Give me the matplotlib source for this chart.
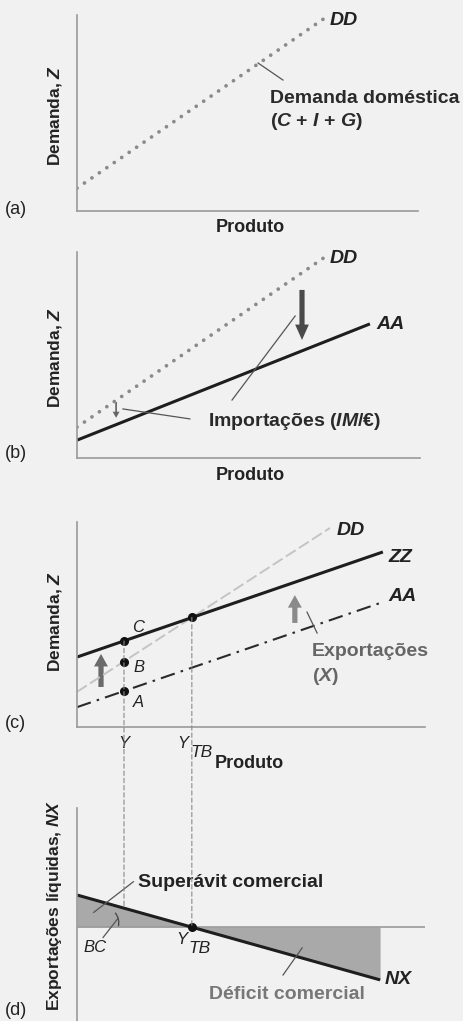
import matplotlib
matplotlib.use("Agg")
import matplotlib.pyplot as plt
from matplotlib.patches import ConnectionPatch, Arc

plt.rcParams['font.family'] = ['Liberation Sans', 'DejaVu Sans']
plt.rcParams['mathtext.fontset'] = 'custom'
plt.rcParams['mathtext.rm'] = 'Liberation Sans:bold'
plt.rcParams['mathtext.it'] = 'Liberation Sans:italic:bold'
plt.rcParams['mathtext.bf'] = 'Liberation Sans:bold'

# ---------------- data ----------------
# panel (a): domestic demand DD
dd_a_x = [0.0, 7.27]
dd_a_y = [0.67, 5.66]
# panel (b): DD and AA = DD - IM/e
dd_b_x = [0.0, 7.23]
dd_b_y = [0.90, 5.86]
aa_b_x = [0.0, 8.54]
aa_b_y = [0.52, 3.91]
# panel (c): DD, AA, ZZ = AA + X
dd_c_x = [0.0, 7.27]
dd_c_y = [1.01, 5.72]
aa_c_x = [0.0, 8.79]
aa_c_y = [0.57, 3.59]
zz_c_x = [0.0, 8.79]
zz_c_y = [2.01, 5.03]
y_out = 1.35          # output level Y
y_tb = 3.30           # trade-balance output level Y_TB
pts_c_names = ['A', 'B', 'C']
pts_c_y = [1.03, 1.88, 2.47]
ytb_c_y = 3.15
# panel (d): net exports NX
nx_x = [0.0, 8.71]
nx_y = [0.92, -1.52]
nx_at_y = 0.54

BG = '#f1f1f1'
fig = plt.figure(figsize=(4.64, 10.21), dpi=100, facecolor=BG)

def fx(px):
    return px / 464.0

def fy(py):
    return 1 - py / 1021.0

def make_ax(l, r, t, b, ylim):
    ax = fig.add_axes([fx(l), fy(b), (r - l) / 464.0, (b - t) / 1021.0])
    ax.set_facecolor(BG)
    ax.set_xlim(0, 10)
    ax.set_ylim(*ylim)
    for s in ['top', 'right']:
        ax.spines[s].set_visible(False)
    for s in ['left', 'bottom']:
        ax.spines[s].set_color('#9a9a9a')
        ax.spines[s].set_linewidth(1.2)
    ax.set_xticks([])
    ax.set_yticks([])
    return ax

FS = 14
DOT = dict(color='#8a8a8a', lw=2.7, linestyle=(0, (0.01, 2.4)), dash_capstyle='round')

# ---------------- panel (a) ----------------
ax_a = make_ax(77, 418, 15, 211, (0, 196 / 34.1))
ax_a.plot(dd_a_x, dd_a_y, **DOT)
ax_a.text(7.42, 5.60, 'DD', fontsize=FS, fontweight='bold', style='italic', va='center', ha='left', color='#222')
ax_a.plot([5.31, 6.04], [4.34, 3.84], color='#555', lw=0.9)
ax_a.text(5.66, 3.31, 'Demanda doméstica', fontsize=FS, fontweight='bold', va='center', ha='left', color='#2a2a2a')
ax_a.text(5.66, 2.61, r'($C$ + $I$ + $G$)', fontsize=FS, fontweight='bold', va='center', ha='left', color='#2a2a2a')
fig.text(fx(250), fy(228), 'Produto', fontsize=13, fontweight='bold', ha='center', va='center', color='#222')
fig.text(fx(55), fy(115), r'Demanda, $Z$', fontsize=12.5, fontweight='bold', rotation=90, ha='center', va='center', color='#222')
fig.text(fx(5), fy(209), '(a)', fontsize=13, ha='left', va='center', color='#222')

# ---------------- panel (b) ----------------
ax_b = make_ax(77, 420, 252, 458, (0, 206 / 34.3))
ax_b.plot(dd_b_x, dd_b_y, **DOT)
ax_b.plot(aa_b_x, aa_b_y, color='#1e1e1e', lw=2.2, solid_capstyle='butt')
ax_b.text(7.38, 5.83, 'DD', fontsize=FS, fontweight='bold', style='italic', va='center', ha='left', color='#222')
ax_b.text(8.74, 3.88, 'AA', fontsize=FS, fontweight='bold', style='italic', va='center', ha='left', color='#222')
ax_b.arrow(6.56, 4.90, 0, -1.46, width=0.15, head_width=0.40, head_length=0.45,
           length_includes_head=True, color='#4a4a4a', lw=0)
ax_b.arrow(1.14, 1.63, 0, -0.46, width=0.05, head_width=0.20, head_length=0.18,
           length_includes_head=True, color='#666666', lw=0)
ax_b.plot([3.29, 1.34], [1.14, 1.43], color='#555', lw=0.9)
ax_b.plot([4.52, 6.36], [1.69, 4.14], color='#555', lw=0.9)
ax_b.text(3.82, 1.05, r'Importações ($IM$/€)', fontsize=FS, fontweight='bold', va='center', ha='left', color='#2a2a2a')
fig.text(fx(250), fy(475), 'Produto', fontsize=13, fontweight='bold', ha='center', va='center', color='#222')
fig.text(fx(55), fy(357), r'Demanda, $Z$', fontsize=12.5, fontweight='bold', rotation=90, ha='center', va='center', color='#222')
fig.text(fx(5), fy(453), '(b)', fontsize=13, ha='left', va='center', color='#222')

# ---------------- panel (c) ----------------
ax_c = make_ax(77, 425, 522, 727, (0, 205 / 34.8))
ax_c.plot(dd_c_x, dd_c_y, color='#c4c4c4', lw=1.4, linestyle=(0, (6, 2)))
ax_c.plot(aa_c_x, aa_c_y, color='#2a2a2a', lw=1.5, linestyle=(0, (7, 3, 1.2, 3)))
ax_c.plot(zz_c_x, zz_c_y, color='#1e1e1e', lw=2.2, solid_capstyle='butt')
ax_c.plot([y_out] * 3, pts_c_y, 'o', color='#111', ms=5.5, zorder=5)
ax_c.plot([y_tb], [ytb_c_y], 'o', color='#111', ms=5.5, zorder=5)
ax_c.text(1.58, 2.87, 'C', fontsize=12, style='italic', va='center', ha='left', color='#222')
ax_c.text(1.61, 1.72, 'B', fontsize=12, style='italic', va='center', ha='left', color='#222')
ax_c.text(1.61, 0.69, 'A', fontsize=12, style='italic', va='center', ha='left', color='#222')
ax_c.text(7.45, 5.66, 'DD', fontsize=FS, fontweight='bold', style='italic', va='center', ha='left', color='#222')
ax_c.text(8.94, 4.86, 'ZZ', fontsize=FS, fontweight='bold', style='italic', va='center', ha='left', color='#222')
ax_c.text(8.94, 3.74, 'AA', fontsize=FS, fontweight='bold', style='italic', va='center', ha='left', color='#222')
ax_c.arrow(6.26, 2.99, 0, 0.80, width=0.15, head_width=0.40, head_length=0.36,
           length_includes_head=True, color='#8a8a8a', lw=0)
ax_c.arrow(0.69, 1.15, 0, 0.95, width=0.15, head_width=0.40, head_length=0.36,
           length_includes_head=True, color='#6a6a6a', lw=0)
ax_c.plot([6.61, 6.90], [3.30, 2.70], color='#555', lw=0.9)
ax_c.text(6.75, 2.16, 'Exportações', fontsize=FS, fontweight='bold', va='center', ha='left', color='#666')
ax_c.text(6.75, 1.44, r'($X$)', fontsize=FS, fontweight='bold', va='center', ha='left', color='#666')
ax_c.text(y_out, -0.46, 'Y', fontsize=12, style='italic', va='center', ha='center', color='#222', clip_on=False)
ax_c.text(3.05, -0.46, 'Y', fontsize=12, style='italic', va='center', ha='center', color='#222', clip_on=False)
ax_c.text(3.58, -0.74, 'TB', fontsize=12.5, style='italic', va='center', ha='center', color='#222', clip_on=False)
fig.text(fx(249), fy(763), 'Produto', fontsize=13, fontweight='bold', ha='center', va='center', color='#222')
fig.text(fx(55), fy(621), r'Demanda, $Z$', fontsize=12.5, fontweight='bold', rotation=90, ha='center', va='center', color='#222')
fig.text(fx(5), fy(723), '(c)', fontsize=13, ha='left', va='center', color='#222')

# ---------------- panel (d) ----------------
ax_d = make_ax(77, 425, 808, 1021, (-94 / 34.8, 119 / 34.8))
ax_d.spines['bottom'].set_visible(False)
ax_d.axhline(0, color='#9a9a9a', lw=1.2)
ax_d.fill_between(nx_x, nx_y, 0, color='#a9a9a9', lw=0)
ax_d.plot(nx_x, nx_y, color='#1e1e1e', lw=2.2, solid_capstyle='butt')
ax_d.plot([y_tb], [0], 'o', color='#111', ms=5.5, zorder=5)
ax_d.text(8.85, -1.52, 'NX', fontsize=FS, fontweight='bold', style='italic', va='center', ha='left', color='#222')
ax_d.text(1.75, 1.29, 'Superávit comercial', fontsize=FS, fontweight='bold', va='center', ha='left', color='#222')
ax_d.plot([1.62, 0.48], [1.30, 0.42], color='#555', lw=0.9)
ax_d.text(6.03, -1.95, 'Déficit comercial', fontsize=FS, fontweight='bold', va='center', ha='center', color='#777')
ax_d.plot([5.92, 6.47], [-1.38, -0.60], color='#555', lw=0.9)
ax_d.text(0.52, -0.58, 'BC', fontsize=12, style='italic', va='center', ha='center', color='#222')
ax_d.plot([0.75, 1.18], [-0.30, 0.25], color='#555', lw=0.9)
ax_d.add_patch(Arc((0.75, 0.12), 0.9, 0.9, theta1=-15, theta2=40, color='#444', lw=0.9))
ax_d.text(3.02, -0.37, 'Y', fontsize=12, style='italic', va='center', ha='center', color='#222')
ax_d.text(3.52, -0.62, 'TB', fontsize=12.5, style='italic', va='center', ha='center', color='#222')
fig.text(fx(55), fy(905), r'Exportações líquidas, $NX$', fontsize=12.5, fontweight='bold', rotation=90, ha='center', va='center', color='#222')
fig.text(fx(5), fy(1010), '(d)', fontsize=13, ha='left', va='center', color='#222')

# vertical guides connecting panels (c) and (d)
for xa, ya, yb in [(y_out, pts_c_y[2], nx_at_y), (y_tb, ytb_c_y, 0.0)]:
    cp = ConnectionPatch(xyA=(xa, ya), coordsA=ax_c.transData, xyB=(xa, yb), coordsB=ax_d.transData,
                         color='#8a8a8a', lw=0.8, linestyle=(0, (4, 2.5)), zorder=1)
    fig.add_artist(cp)

fig.savefig('out.png', dpi=100, facecolor=BG)
